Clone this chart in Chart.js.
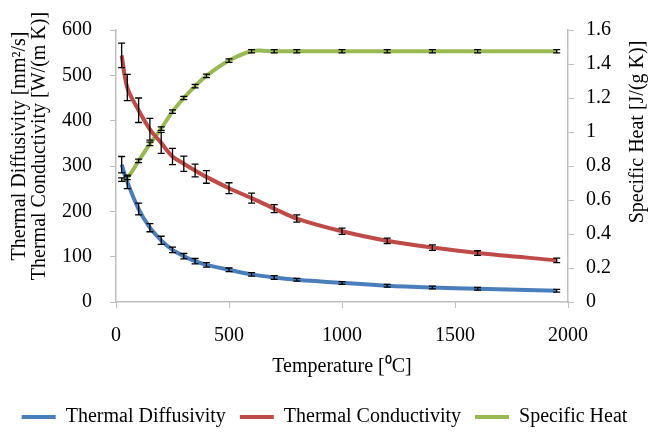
<!DOCTYPE html>
<html>
<head>
<meta charset="utf-8">
<script src="https://cdn.jsdelivr.net/npm/chart.js@4.4.1/dist/chart.umd.min.js"></script>
<style>
  html, body { margin: 0; padding: 0; background: #fff; }
  #wrap { width: 649px; height: 432px; }
</style>
</head>
<body>
<div id="wrap"><canvas id="chart"></canvas></div>
<script>
// Данные
const temperature = [25, 50, 100, 150, 200, 250, 300, 350, 400, 500, 600, 700, 800, 1000, 1200, 1400, 1600, 1950];

const diffusivity = [303, 265, 205, 164, 136, 115, 101, 90, 82, 71, 61, 54, 49, 42, 36, 32, 29, 25];
const diffusivityErr = [18, 15, 13, 9, 9, 6, 6, 6, 5, 4, 4, 4, 3, 3, 3, 3, 3, 3];

const conductivity = [544, 473, 423, 381, 351, 321, 305, 290, 276, 251, 229, 206, 184, 156, 135, 120, 108, 92];
const conductivityErr = [27, 29, 27, 24, 23, 18, 17, 14, 14, 12, 11, 9, 8, 7, 6, 6, 5, 5];

const specificHeat = [0.72, 0.73, 0.83, 0.93, 1.02, 1.12, 1.20, 1.27, 1.33, 1.42, 1.475, 1.475, 1.475, 1.475, 1.475, 1.475, 1.475, 1.475];
const specificHeatErr = [0.01, 0.01, 0.01, 0.01, 0.01, 0.01, 0.01, 0.01, 0.01, 0.01, 0.01, 0.01, 0.01, 0.01, 0.01, 0.01, 0.01, 0.01];

const seriesNames = ['Thermal Diffusivity', 'Thermal Conductivity', 'Specific Heat'];
const leftTitle = ['Thermal Diffusivity [mm\u00B2/s]', 'Thermal Conductivity [W/(m K)]'];
const rightTitle = 'Specific Heat [J/(g K)]';
const xTitle = 'Temperature [\u2070C]';

const FONT = '"Liberation Serif", "Times New Roman", serif';
const AXIS_GREY = '#bfbfbf';

const toPoints = values => values.map((v, i) => ({ x: temperature[i], y: v }));

// Планки погрешностей
const errorBars = {
  id: 'errorBars',
  afterDatasetsDraw(chart) {
    const ctx = chart.ctx;
    const xScale = chart.scales.x;
    ctx.save();
    ctx.strokeStyle = '#000';
    ctx.lineWidth = 1.3;
    chart.data.datasets.forEach(ds => {
      const yScale = chart.scales[ds.yAxisID];
      ds.data.forEach((p, j) => {
        const err = ds.errors[j];
        const x = xScale.getPixelForValue(p.x);
        const yTop = yScale.getPixelForValue(p.y + err);
        const yBot = yScale.getPixelForValue(p.y - err);
        ctx.beginPath();
        ctx.moveTo(x, yTop); ctx.lineTo(x, yBot);
        ctx.moveTo(x - 3.5, yTop); ctx.lineTo(x + 3.5, yTop);
        ctx.moveTo(x - 3.5, yBot); ctx.lineTo(x + 3.5, yBot);
        ctx.stroke();
      });
    });
    ctx.restore();
  }
};

// Подписи вертикальных осей
const axisTitles = {
  id: 'axisTitles',
  afterDraw(chart) {
    const ctx = chart.ctx;
    ctx.save();
    ctx.font = '20px ' + FONT;
    ctx.fillStyle = '#000';
    ctx.textAlign = 'center';
    ctx.textBaseline = 'middle';
    leftTitle.forEach((t, i) => {
      ctx.save();
      ctx.translate(20 + i * 20, 146);
      ctx.rotate(-Math.PI / 2);
      ctx.fillText(t, 0, 0);
      ctx.restore();
    });
    ctx.translate(638, 132);
    ctx.rotate(-Math.PI / 2);
    ctx.fillText(rightTitle, 0, 0);
    ctx.restore();
  }
};

const makeSet = (label, values, errors, color, axis) => ({
  label: label,
  data: toPoints(values),
  errors: errors,
  yAxisID: axis,
  borderColor: color,
  backgroundColor: color,
  borderWidth: 4,
  pointRadius: 0,
  tension: 0.35,
  fill: false
});

new Chart(document.getElementById('chart'), {
  type: 'line',
  data: {
    datasets: [
      makeSet(seriesNames[0], diffusivity, diffusivityErr, '#4A7EBB', 'y'),
      makeSet(seriesNames[1], conductivity, conductivityErr, '#BE4B48', 'y'),
      makeSet(seriesNames[2], specificHeat, specificHeatErr, '#98B954', 'y2')
    ]
  },
  options: {
    responsive: true,
    maintainAspectRatio: false,
    animation: false,
    devicePixelRatio: 1,
    layout: { padding: { top: 17, left: 0, right: 0, bottom: -5 } },
    plugins: {
      legend: {
        position: 'bottom',
        labels: {
          usePointStyle: true,
          pointStyle: 'line',
          pointStyleWidth: 34,
          padding: 14,
          color: '#000',
          font: { family: FONT, size: 20 }
        }
      },
      tooltip: { enabled: false }
    },
    scales: {
      x: {
        type: 'linear',
        min: 0,
        max: 2000,
        afterFit: s => { s.height = 91; },
        ticks: {
          stepSize: 500,
          padding: 16,
          color: '#000',
          font: { family: FONT, size: 20 },
          callback: v => String(v)
        },
        grid: { drawOnChartArea: false, tickLength: 6, color: AXIS_GREY },
        border: { color: AXIS_GREY, width: 1.5 },
        title: {
          display: true,
          text: xTitle,
          color: '#000',
          font: { family: FONT, size: 20 },
          padding: { top: 0, bottom: 14 }
        }
      },
      y: {
        position: 'left',
        min: 0,
        max: 600,
        afterFit: s => { s.width = 116; },
        ticks: {
          stepSize: 100,
          padding: 18,
          color: '#000',
          font: { family: FONT, size: 20 }
        },
        grid: { drawOnChartArea: false, tickLength: 6, color: AXIS_GREY },
        border: { color: AXIS_GREY, width: 1.5 }
      },
      y2: {
        position: 'right',
        min: 0,
        max: 1.6,
        afterFit: s => { s.width = 81; },
        ticks: {
          stepSize: 0.2,
          padding: 12,
          color: '#000',
          font: { family: FONT, size: 20 },
          callback: v => String(Math.round(v * 10) / 10)
        },
        grid: { drawOnChartArea: false, tickLength: 6, color: AXIS_GREY },
        border: { color: AXIS_GREY, width: 1.5 }
      }
    }
  },
  plugins: [errorBars, axisTitles]
});
</script>
</body>
</html>
